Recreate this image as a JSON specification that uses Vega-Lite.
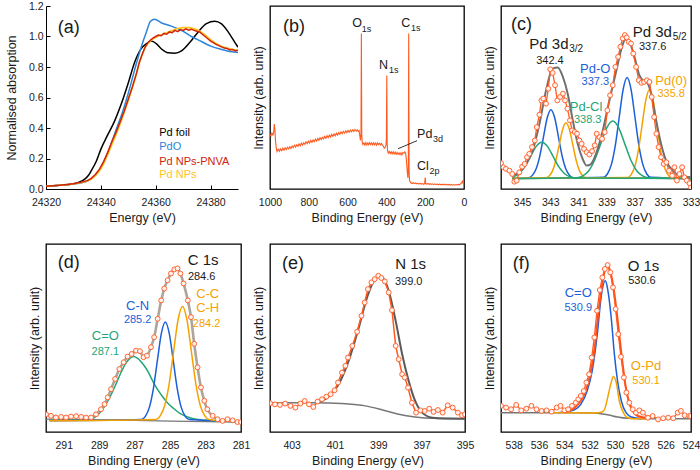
{
"$schema":"https://vega.github.io/schema/vega-lite/v6.json",
"background":"white",
"padding":{"left":5,"top":0,"right":0,"bottom":5},
"spacing":0,
"resolve":{"scale":{"x":"independent","y":"independent","color":"independent"}},
"config":{
 "font":"Liberation Sans",
 "view":{"stroke":"#000","strokeWidth":1.3},
 "axis":{"grid":false,"domain":false,"ticks":false,"labelFontSize":10.5,"titleFontSize":12.5,"titleFontWeight":"normal","labelColor":"#1a1a1a","titleColor":"#1a1a1a","labelPadding":8,"titlePadding":4,"labelFlush":false,"labelOverlap":false},
 "axisY":{"titlePadding":5},
 "text":{"font":"Liberation Sans"}
},
"hconcat":[
{"bounds":"flush","spacing":55,"resolve":{"scale":{"x":"independent","y":"independent","color":"independent"}},
 "vconcat":[
 {"width":192,"height":183,"view":{"stroke":null},
  "encoding":{
   "x":{"field":"x","type":"quantitative","scale":{"domain":[24320,24390],"nice":false,"zero":false},"axis":{"title":"Energy (eV)","values":[24320,24340,24360,24380],"format":"d","domain":true,"domainColor":"#000","ticks":true,"tickColor":"#000","tickSize":-4,"labelPadding":12,"titlePadding":4}},
   "y":{"field":"y","type":"quantitative","scale":{"domain":[0,1.2],"nice":false},"axis":{"title":"Normalised absorption","values":[0,0.2,0.4,0.6,0.8,1,1.2],"format":".1f","domain":true,"domainColor":"#000","ticks":true,"tickColor":"#000","tickSize":-4,"labelPadding":7,"titlePadding":10}}
  },
  "layer":[
   {"data":{"values":[{"x":24320,"y":0.018},{"x":24325,"y":0.025},{"x":24330,"y":0.035},{"x":24332,"y":0.045},{"x":24334,"y":0.063},{"x":24335.5,"y":0.09},{"x":24336.5,"y":0.12},{"x":24338.3,"y":0.18},{"x":24340.1,"y":0.265},{"x":24342.5,"y":0.355},{"x":24345,"y":0.445},{"x":24347.4,"y":0.555},{"x":24349.9,"y":0.69},{"x":24352.3,"y":0.83},{"x":24354.7,"y":0.92},{"x":24356.6,"y":0.953},{"x":24358.4,"y":0.97},{"x":24360.2,"y":0.953},{"x":24362,"y":0.92},{"x":24364.5,"y":0.893},{"x":24366.9,"y":0.89},{"x":24369.4,"y":0.905},{"x":24372.4,"y":0.96},{"x":24375.5,"y":1.03},{"x":24378.5,"y":1.085},{"x":24381.5,"y":1.1},{"x":24384,"y":1.083},{"x":24386.4,"y":1.03},{"x":24388.9,"y":0.96},{"x":24390,"y":0.93}]},
    "mark":{"type":"line","color":"#000","strokeWidth":1.5,"interpolate":"monotone","clip":true}},
   {"data":{"values":[{"x":24320,"y":0.018},{"x":24325,"y":0.025},{"x":24330,"y":0.032},{"x":24335.2,"y":0.052},{"x":24338.3,"y":0.096},{"x":24340.7,"y":0.16},{"x":24343.2,"y":0.27},{"x":24345.6,"y":0.39},{"x":24348,"y":0.51},{"x":24350.5,"y":0.66},{"x":24352.9,"y":0.82},{"x":24354.7,"y":0.93},{"x":24356.6,"y":1.03},{"x":24358.1,"y":1.1},{"x":24359.6,"y":1.113},{"x":24362,"y":1.09},{"x":24365.7,"y":1.068},{"x":24369.4,"y":1.04},{"x":24373,"y":1.0},{"x":24376.7,"y":0.967},{"x":24380.3,"y":0.935},{"x":24384,"y":0.915},{"x":24387.6,"y":0.9},{"x":24390,"y":0.895}]},
    "mark":{"type":"line","color":"#2b86d9","strokeWidth":1.5,"interpolate":"monotone","clip":true}},
   {"data":{"values":[{"x":24320,"y":0.018},{"x":24325,"y":0.025},{"x":24330,"y":0.033},{"x":24333,"y":0.043},{"x":24335,"y":0.052},{"x":24336.5,"y":0.065},{"x":24338,"y":0.088},{"x":24339.5,"y":0.12},{"x":24341,"y":0.165},{"x":24342.5,"y":0.225},{"x":24344,"y":0.29},{"x":24345.5,"y":0.355},{"x":24347,"y":0.425},{"x":24348.5,"y":0.5},{"x":24350,"y":0.58},{"x":24351.5,"y":0.665},{"x":24353,"y":0.755},{"x":24354,"y":0.825},{"x":24355,"y":0.875},{"x":24356,"y":0.92},{"x":24357,"y":0.95},{"x":24358,"y":0.97},{"x":24359,"y":0.985},{"x":24360,"y":0.995},{"x":24362,"y":1.01},{"x":24364,"y":1.025},{"x":24366,"y":1.04},{"x":24368,"y":1.052},{"x":24370,"y":1.058},{"x":24372,"y":1.058},{"x":24374,"y":1.05},{"x":24376,"y":1.035},{"x":24378,"y":1.01},{"x":24380,"y":0.98},{"x":24382,"y":0.955},{"x":24384,"y":0.935},{"x":24386,"y":0.925},{"x":24388,"y":0.915},{"x":24390,"y":0.91}]},
    "mark":{"type":"line","color":"#ffc21a","strokeWidth":1.6,"interpolate":"monotone","clip":true}},
   {"data":{"values":[{"x":24320,"y":0.018},{"x":24325,"y":0.025},{"x":24330,"y":0.034},{"x":24333,"y":0.045},{"x":24335,"y":0.055},{"x":24336.5,"y":0.07},{"x":24338,"y":0.095},{"x":24339.5,"y":0.13},{"x":24341,"y":0.18},{"x":24342.5,"y":0.24},{"x":24344,"y":0.31},{"x":24345.5,"y":0.37},{"x":24347,"y":0.44},{"x":24348.5,"y":0.51},{"x":24350,"y":0.59},{"x":24351.5,"y":0.67},{"x":24353,"y":0.76},{"x":24354,"y":0.83},{"x":24355,"y":0.88},{"x":24356,"y":0.925},{"x":24357,"y":0.955},{"x":24358,"y":0.975},{"x":24359,"y":0.99},{"x":24360,"y":1.0},{"x":24361,"y":1.01},{"x":24362,"y":1.005},{"x":24363,"y":1.02},{"x":24364,"y":1.015},{"x":24365,"y":1.03},{"x":24366,"y":1.025},{"x":24367,"y":1.04},{"x":24368,"y":1.032},{"x":24369,"y":1.045},{"x":24370,"y":1.04},{"x":24371,"y":1.05},{"x":24372,"y":1.042},{"x":24373,"y":1.048},{"x":24374,"y":1.04},{"x":24375,"y":1.035},{"x":24376,"y":1.03},{"x":24377,"y":1.015},{"x":24378,"y":1.0},{"x":24379,"y":0.985},{"x":24380,"y":0.97},{"x":24381,"y":0.96},{"x":24382,"y":0.948},{"x":24383,"y":0.94},{"x":24384,"y":0.932},{"x":24385,"y":0.925},{"x":24386,"y":0.922},{"x":24387,"y":0.912},{"x":24388,"y":0.915},{"x":24389,"y":0.905},{"x":24390,"y":0.91}]},
    "mark":{"type":"line","color":"#cf2408","strokeWidth":1.5,"clip":true}},
   {"data":{"values":[{"t":"(a)","x":24324.3,"y":1.058}]},"mark":{"type":"text","align":"left","baseline":"middle","fontSize":18,"color":"#1a1a1a"},"encoding":{"text":{"field":"t"}}},
   {"data":{"values":[{"t":"Pd foil","x":24361.3,"y":0.367},{"t":"PdO","x":24361.3,"y":0.277},{"t":"Pd NPs-PNVA","x":24361.3,"y":0.177},{"t":"Pd NPs","x":24361.3,"y":0.092}]},
    "mark":{"type":"text","align":"left","baseline":"middle","fontSize":11},
    "encoding":{"text":{"field":"t"},"color":{"field":"t","type":"nominal","scale":{"domain":["Pd foil","PdO","Pd NPs-PNVA","Pd NPs"],"range":["#000000","#2b86d9","#cf2408","#ffc21a"]},"legend":null}}}
  ]},
 {"width":195,"height":188,
  "encoding":{
   "x":{"field":"x","type":"quantitative","scale":{"domain":[281,292],"reverse":true,"nice":false,"zero":false},"axis":{"title":"Binding Energy (eV)","values":[291,289,287,285,283,281],"format":"d"}},
   "y":{"field":"y","type":"quantitative","scale":{"domain":[0,100],"nice":false},"axis":{"title":"Intensity (arb. unit)","labels":false}}
  },
  "layer":[
   {"data":{"values":[{"x":292,"y":6.8},{"x":289,"y":6.5},{"x":287,"y":6.2},{"x":285,"y":5.8},{"x":283,"y":5.5},{"x":281,"y":5.3}]},"mark":{"type":"line","color":"#777777","strokeWidth":1.3,"clip":true}},
   {"data":{"values":[
    {"c":"C=O","x":291.8,"y":6.3},{"c":"C=O","x":289.6,"y":6.2},{"c":"C=O","x":289.3,"y":7.5},{"c":"C=O","x":289,"y":9.8},{"c":"C=O","x":288.7,"y":13.5},{"c":"C=O","x":288.4,"y":18.5},{"c":"C=O","x":288.1,"y":24.5},{"c":"C=O","x":287.8,"y":31},{"c":"C=O","x":287.5,"y":36.5},{"c":"C=O","x":287.25,"y":39.3},{"c":"C=O","x":287.06,"y":40.1},{"c":"C=O","x":286.85,"y":39.3},{"c":"C=O","x":286.6,"y":37},{"c":"C=O","x":286.3,"y":33},{"c":"C=O","x":286,"y":27.5},{"c":"C=O","x":285.7,"y":22.5},{"c":"C=O","x":285.4,"y":18.5},{"c":"C=O","x":285.1,"y":15},{"c":"C=O","x":284.8,"y":12.5},{"c":"C=O","x":284.4,"y":9.6},{"c":"C=O","x":284,"y":8},{"c":"C=O","x":283.6,"y":6.9},{"c":"C=O","x":283,"y":6.2},{"c":"C=O","x":282,"y":5.7},{"c":"C=O","x":281.2,"y":5.5},
    {"c":"C-N","x":291.8,"y":6},{"c":"C-N","x":286.62,"y":6.6},{"c":"C-N","x":286.395,"y":8.3},{"c":"C-N","x":286.17,"y":13.1},{"c":"C-N","x":285.945,"y":23},{"c":"C-N","x":285.72,"y":37.8},{"c":"C-N","x":285.495,"y":52.3},{"c":"C-N","x":285.27,"y":58.5},{"c":"C-N","x":285.045,"y":52.3},{"c":"C-N","x":284.82,"y":37.8},{"c":"C-N","x":284.595,"y":23},{"c":"C-N","x":284.37,"y":13.1},{"c":"C-N","x":284.145,"y":8.3},{"c":"C-N","x":283.92,"y":6.6},{"c":"C-N","x":281.2,"y":5.6},
    {"c":"C-C","x":291.8,"y":6},{"c":"C-C","x":285.8,"y":6.7},{"c":"C-C","x":285.55,"y":8.7},{"c":"C-C","x":285.3,"y":14.2},{"c":"C-C","x":285.05,"y":25.7},{"c":"C-C","x":284.8,"y":42.9},{"c":"C-C","x":284.55,"y":59.7},{"c":"C-C","x":284.3,"y":66.8},{"c":"C-C","x":284.05,"y":59.7},{"c":"C-C","x":283.8,"y":42.9},{"c":"C-C","x":283.55,"y":25.7},{"c":"C-C","x":283.3,"y":14.2},{"c":"C-C","x":283.05,"y":8.7},{"c":"C-C","x":282.8,"y":6.7},{"c":"C-C","x":281.2,"y":5.6}]},
    "mark":{"type":"line","strokeWidth":1.5,"interpolate":"monotone","clip":true},
    "encoding":{"color":{"field":"c","type":"nominal","scale":{"domain":["total","C=O","C-N","C-C"],"range":["#1a1a1a","#1fa675","#1c5fd9","#f5a200"]},"legend":null}}},
   {"data":{"name":"dpts","values":[{"x":292,"y":9.4},{"x":291.72,"y":8.6},{"x":291.44,"y":7.7},{"x":291.15,"y":8},{"x":290.87,"y":7.7},{"x":290.59,"y":8.2},{"x":290.3,"y":8.4},{"x":290.02,"y":8},{"x":289.74,"y":7.7},{"x":289.46,"y":7.7},{"x":289.18,"y":9.4},{"x":288.9,"y":12.1},{"x":288.7,"y":14.8},{"x":288.52,"y":18.4},{"x":288.33,"y":22.8},{"x":288.1,"y":28.2},{"x":287.86,"y":33.5},{"x":287.62,"y":37.1},{"x":287.4,"y":40.1},{"x":287.17,"y":41.5},{"x":286.92,"y":43.3},{"x":286.7,"y":43},{"x":286.5,"y":39.8},{"x":286.3,"y":40.6},{"x":286.08,"y":45.1},{"x":285.9,"y":50.4},{"x":285.7,"y":60.2},{"x":285.5,"y":70},{"x":285.33,"y":76.3},{"x":285.14,"y":80.7},{"x":284.95,"y":84.3},{"x":284.76,"y":86.5},{"x":284.58,"y":87},{"x":284.42,"y":84.3},{"x":284.24,"y":79},{"x":284,"y":70},{"x":283.82,"y":61.1},{"x":283.64,"y":46.9},{"x":283.45,"y":34.4},{"x":283.26,"y":23.7},{"x":283.07,"y":16.6},{"x":282.9,"y":12.1},{"x":282.6,"y":8.6},{"x":282.32,"y":6.8},{"x":282.04,"y":5.9},{"x":281.76,"y":6.8},{"x":281.47,"y":6.2},{"x":281.2,"y":5.3},{"x":281,"y":5.3}]},
    "mark":{"type":"line","color":"#ada49b","strokeWidth":2.6,"interpolate":"monotone","clip":true}},
   {"data":{"name":"dpts"},"mark":{"type":"point","shape":"circle","filled":true,"fill":"#fff2ec","stroke":"#ff6633","strokeWidth":1,"size":24,"opacity":1,"clip":true}},
   {"data":{"values":[{"t":"(d)","x":291.34,"y":89.7}]},"mark":{"type":"text","align":"left","baseline":"middle","fontSize":18,"color":"#1a1a1a"},"encoding":{"text":{"field":"t"}}},
   {"data":{"values":[{"t":"C 1s","x":284.01,"y":91.4}]},"mark":{"type":"text","align":"left","baseline":"middle","fontSize":15,"color":"#1a1a1a"},"encoding":{"text":{"field":"t"}}},
   {"data":{"values":[{"t":"C-C","c":"C-C","x":282.88,"y":73.3},{"t":"C-H","c":"C-C","x":282.88,"y":66},{"t":"C-N","c":"C-N","x":286.83,"y":67},{"t":"C=O","c":"C=O","x":288.65,"y":51}]},"mark":{"type":"text","align":"center","baseline":"middle","fontSize":13},
    "encoding":{"text":{"field":"t"},"color":{"field":"c","type":"nominal","legend":null}}},
   {"data":{"values":[{"t":"284.6","c":"total","x":283.22,"y":82.5},{"t":"284.2","c":"C-C","x":282.94,"y":57.2},{"t":"285.2","c":"C-N","x":286.83,"y":59.4},{"t":"287.1","c":"C=O","x":288.65,"y":42.4}]},"mark":{"type":"text","align":"center","baseline":"middle","fontSize":11},
    "encoding":{"text":{"field":"t"},"color":{"field":"c","type":"nominal","legend":null}}}
  ]}
 ]},
{"spacing":7,"resolve":{"scale":{"x":"independent","y":"independent","color":"independent"}},
 "hconcat":[
 {"bounds":"flush","spacing":55,"resolve":{"scale":{"x":"independent","y":"independent","color":"independent"}},
  "vconcat":[
  {"width":194,"height":183,"title":{"text":" ","fontSize":1,"offset":4.25},
   "encoding":{
    "x":{"field":"x","type":"quantitative","scale":{"domain":[0,1000],"reverse":true,"nice":false,"zero":false},"axis":{"title":"Binding Energy (eV)","values":[1000,800,600,400,200,0],"format":"d"}},
    "y":{"field":"y","type":"quantitative","scale":{"domain":[0,100],"nice":false},"axis":{"title":"Intensity (arb. unit)","labels":false}}
   },
   "layer":[
    {"data":{"values":[{"x":1000,"y":30},{"x":995,"y":29},{"x":990,"y":30.5},{"x":985,"y":29.5},{"x":981,"y":31},{"x":978,"y":35.5},{"x":975,"y":33},{"x":972,"y":27},{"x":968,"y":22.5},{"x":964,"y":20.5},{"x":958,"y":21.8},{"x":952,"y":20.6},{"x":946,"y":21.9},{"x":940,"y":21},{"x":934,"y":22.3},{"x":928,"y":21.2},{"x":922,"y":22.6},{"x":916,"y":21.5},{"x":910,"y":22.8},{"x":904,"y":21.9},{"x":898,"y":23.2},{"x":892,"y":22.1},{"x":886,"y":23.5},{"x":880,"y":22.6},{"x":874,"y":24},{"x":868,"y":22.9},{"x":862,"y":24.2},{"x":856,"y":23.3},{"x":850,"y":24.6},{"x":844,"y":23.6},{"x":838,"y":25},{"x":832,"y":24},{"x":826,"y":25.3},{"x":820,"y":24.4},{"x":814,"y":25.8},{"x":808,"y":24.8},{"x":802,"y":26.1},{"x":796,"y":25.1},{"x":790,"y":26.5},{"x":784,"y":25.5},{"x":778,"y":26.8},{"x":772,"y":25.9},{"x":766,"y":27.2},{"x":760,"y":26.2},{"x":754,"y":27.6},{"x":748,"y":26.6},{"x":742,"y":28},{"x":736,"y":27},{"x":730,"y":28.3},{"x":724,"y":27.4},{"x":718,"y":28.7},{"x":712,"y":27.7},{"x":706,"y":29.1},{"x":700,"y":28.1},{"x":694,"y":29.4},{"x":688,"y":28.4},{"x":682,"y":29.8},{"x":676,"y":28.8},{"x":670,"y":30.1},{"x":664,"y":29.1},{"x":658,"y":30.5},{"x":652,"y":29.5},{"x":646,"y":30.8},{"x":640,"y":29.9},{"x":634,"y":31.2},{"x":628,"y":30.2},{"x":622,"y":31.5},{"x":616,"y":30.5},{"x":610,"y":31.8},{"x":604,"y":30.8},{"x":598,"y":32},{"x":592,"y":31},{"x":586,"y":32.2},{"x":580,"y":31.3},{"x":574,"y":32.4},{"x":568,"y":31.4},{"x":562,"y":32.5},{"x":556,"y":31.6},{"x":550,"y":32.3},{"x":545,"y":31.5},{"x":541,"y":32},{"x":537,"y":29},{"x":534,"y":26.5},{"x":531,"y":30},{"x":529,"y":85},{"x":527,"y":30},{"x":525,"y":25.5},{"x":521,"y":24.3},{"x":516,"y":25.2},{"x":511,"y":24},{"x":506,"y":25.3},{"x":501,"y":24.1},{"x":496,"y":25.2},{"x":491,"y":24.2},{"x":486,"y":25.4},{"x":481,"y":24.3},{"x":476,"y":25.2},{"x":471,"y":24.1},{"x":466,"y":25.3},{"x":461,"y":24.2},{"x":456,"y":25.1},{"x":451,"y":24},{"x":446,"y":25.2},{"x":441,"y":24.3},{"x":436,"y":25},{"x":431,"y":24.1},{"x":426,"y":24.9},{"x":421,"y":24},{"x":416,"y":23.5},{"x":411,"y":22.3},{"x":406,"y":22.8},{"x":402,"y":24},{"x":400,"y":28},{"x":398,"y":62},{"x":396,"y":25},{"x":394,"y":21},{"x":390,"y":19.6},{"x":385,"y":20.5},{"x":380,"y":19.4},{"x":375,"y":20.4},{"x":370,"y":19.2},{"x":365,"y":20.3},{"x":360,"y":19.1},{"x":355,"y":20.2},{"x":350,"y":19},{"x":345,"y":20},{"x":340,"y":18.9},{"x":335,"y":19.8},{"x":330,"y":18.8},{"x":325,"y":19.7},{"x":320,"y":18.6},{"x":315,"y":19.9},{"x":310,"y":19.5},{"x":305,"y":20.3},{"x":301,"y":19.5},{"x":298,"y":17},{"x":295,"y":13},{"x":292,"y":9},{"x":289,"y":6},{"x":287,"y":12},{"x":285,"y":85},{"x":283,"y":10},{"x":281,"y":5},{"x":278,"y":4},{"x":274,"y":3.4},{"x":268,"y":3},{"x":262,"y":3.4},{"x":256,"y":2.9},{"x":250,"y":3.3},{"x":244,"y":2.8},{"x":238,"y":3.2},{"x":232,"y":2.7},{"x":226,"y":3.1},{"x":220,"y":2.7},{"x":214,"y":3.0},{"x":208,"y":2.6},{"x":203,"y":2.9},{"x":200,"y":6.3},{"x":197,"y":2.8},{"x":192,"y":2.6},{"x":186,"y":3.0},{"x":180,"y":2.5},{"x":174,"y":2.9},{"x":168,"y":2.5},{"x":162,"y":2.8},{"x":156,"y":2.4},{"x":150,"y":2.8},{"x":144,"y":2.4},{"x":138,"y":2.7},{"x":132,"y":2.3},{"x":126,"y":2.7},{"x":120,"y":2.3},{"x":114,"y":2.6},{"x":108,"y":2.2},{"x":102,"y":2.6},{"x":96,"y":2.2},{"x":90,"y":2.5},{"x":84,"y":2.2},{"x":78,"y":2.5},{"x":72,"y":2.1},{"x":66,"y":2.5},{"x":60,"y":2.1},{"x":54,"y":2.4},{"x":48,"y":2.1},{"x":42,"y":2.4},{"x":36,"y":2.2},{"x":30,"y":2.5},{"x":24,"y":2.3},{"x":18,"y":2.8},{"x":12,"y":3.5},{"x":8,"y":4.3},{"x":5,"y":3.2},{"x":2,"y":2.4},{"x":0,"y":2.2}]},
     "mark":{"type":"line","color":"#ff5a1f","strokeWidth":1.1,"clip":true}},
    {"data":{"values":[{"x":242,"y":26.4,"x2":340,"y2":22}]},"mark":{"type":"rule","color":"#000","strokeWidth":0.8},"encoding":{"x2":{"field":"x2"},"y2":{"field":"y2"}}},
    {"data":{"values":[{"t":"(b)","x":933,"y":88.6}]},"mark":{"type":"text","align":"left","baseline":"middle","fontSize":18,"color":"#1a1a1a"},"encoding":{"text":{"field":"t"}}},
    {"data":{"values":[{"t":"O","x":576,"y":90.5},{"t":"N","x":438,"y":67.6},{"t":"C","x":323,"y":90.8},{"t":"Pd","x":242,"y":30.2},{"t":"Cl","x":242,"y":12.3}]},"mark":{"type":"text","align":"left","baseline":"middle","fontSize":12.5,"color":"#1a1a1a"},"encoding":{"text":{"field":"t"}}},
    {"data":{"values":[{"t":"1s","x":527,"y":87.6},{"t":"1s","x":387,"y":64.8},{"t":"1s","x":273,"y":87.9},{"t":"3d","x":160,"y":27.5},{"t":"2p","x":178,"y":9.6}]},"mark":{"type":"text","align":"left","baseline":"middle","fontSize":9,"color":"#1a1a1a"},"encoding":{"text":{"field":"t"}}}
   ]},
  {"width":195,"height":188,
   "encoding":{
    "x":{"field":"x","type":"quantitative","scale":{"domain":[395,404],"reverse":true,"nice":false,"zero":false},"axis":{"title":"Binding Energy (eV)","values":[403,401,399,397,395],"format":"d"}},
    "y":{"field":"y","type":"quantitative","scale":{"domain":[0,100],"nice":false},"axis":{"title":"Intensity (arb. unit)","labels":false}}
   },
   "layer":[
    {"data":{"values":[{"x":404,"y":15.5},{"x":401.9,"y":15.6},{"x":400.7,"y":15.1},{"x":399.6,"y":13.9},{"x":398.8,"y":11.7},{"x":398.06,"y":9.4},{"x":397.3,"y":8},{"x":396.5,"y":7.3},{"x":395,"y":7.1}]},"mark":{"type":"line","color":"#777777","strokeWidth":1.5,"interpolate":"monotone","clip":true}},
    {"data":{"values":[{"x":401.9,"y":15.6},{"x":401.3,"y":18.8},{"x":400.83,"y":25.4},{"x":400.37,"y":37.8},{"x":399.9,"y":55.6},{"x":399.52,"y":71.6},{"x":399.2,"y":80.5},{"x":398.98,"y":83.1},{"x":398.75,"y":81.3},{"x":398.52,"y":75.1},{"x":398.2,"y":59.1},{"x":397.9,"y":41.4},{"x":397.6,"y":27.2},{"x":397.3,"y":16.5},{"x":396.98,"y":10.3},{"x":396.5,"y":7.6},{"x":396,"y":7.2},{"x":395,"y":7.1}]},"mark":{"type":"line","color":"#5a5a5a","strokeWidth":2,"interpolate":"monotone","clip":true}},
    {"data":{"name":"epts","values":[{"x":404,"y":15.3},{"x":403.77,"y":14.7},{"x":403.54,"y":14.4},{"x":403.3,"y":15.1},{"x":403.06,"y":13.9},{"x":402.83,"y":13},{"x":402.6,"y":15.1},{"x":402.4,"y":16.5},{"x":402.2,"y":14.7},{"x":402,"y":13.3},{"x":401.8,"y":16.2},{"x":401.6,"y":17.4},{"x":401.4,"y":18.8},{"x":401.2,"y":20.1},{"x":401.02,"y":22.2},{"x":400.86,"y":26.3},{"x":400.68,"y":31.6},{"x":400.52,"y":35.2},{"x":400.4,"y":39.6},{"x":400.2,"y":45.8},{"x":399.98,"y":53.3},{"x":399.78,"y":61.8},{"x":399.63,"y":68.9},{"x":399.48,"y":76},{"x":399.32,"y":79.6},{"x":399.17,"y":81.3},{"x":399,"y":83.1},{"x":398.86,"y":81.9},{"x":398.7,"y":80.1},{"x":398.52,"y":74.2},{"x":398.37,"y":64.8},{"x":398.2,"y":45.8},{"x":398.06,"y":38.7},{"x":397.9,"y":30.7},{"x":397.78,"y":29},{"x":397.63,"y":23.6},{"x":397.45,"y":15.6},{"x":397.26,"y":10.3},{"x":397.06,"y":11.5},{"x":396.86,"y":11.2},{"x":396.65,"y":12.4},{"x":396.45,"y":10.7},{"x":396.25,"y":11.7},{"x":396.03,"y":10.3},{"x":395.8,"y":14.2},{"x":395.57,"y":13},{"x":395.33,"y":10.3},{"x":395.14,"y":8.9},{"x":395,"y":9.4}]},
     "mark":{"type":"line","color":"#ff5a1f","strokeWidth":1.5,"clip":true}},
    {"data":{"name":"epts"},"mark":{"type":"point","shape":"circle","filled":true,"fill":"#fff2ec","stroke":"#ff6633","strokeWidth":1,"size":24,"opacity":1,"clip":true}},
    {"data":{"values":[{"t":"(e)","x":403.45,"y":89.3}]},"mark":{"type":"text","align":"left","baseline":"middle","fontSize":18,"color":"#1a1a1a"},"encoding":{"text":{"field":"t"}}},
    {"data":{"values":[{"t":"N 1s","x":398.22,"y":89.3}]},"mark":{"type":"text","align":"left","baseline":"middle","fontSize":15,"color":"#1a1a1a"},"encoding":{"text":{"field":"t"}}},
    {"data":{"values":[{"t":"399.0","x":397.6,"y":79.6}]},"mark":{"type":"text","align":"center","baseline":"middle","fontSize":11,"color":"#1a1a1a"},"encoding":{"text":{"field":"t"}}}
   ]}
  ]},
 {"bounds":"flush","spacing":55,"resolve":{"scale":{"x":"independent","y":"independent","color":"independent"}},
  "vconcat":[
  {"width":190,"height":183,"title":{"text":" ","fontSize":1,"offset":4.25},
   "encoding":{
    "x":{"field":"x","type":"quantitative","scale":{"domain":[333,346.5],"reverse":true,"nice":false,"zero":false},"axis":{"title":"Binding Energy (eV)","values":[345,343,341,339,337,335,333],"format":"d"}},
    "y":{"field":"y","type":"quantitative","scale":{"domain":[0,100],"nice":false},"axis":{"title":"Intensity (arb. unit)","labels":false}}
   },
   "layer":[
    {"data":{"values":[
     {"c":"Pd-O","p":"a","x":345.7,"y":5.8},{"c":"Pd-O","p":"a","x":344.54,"y":6.2},{"c":"Pd-O","p":"a","x":344.275,"y":7.45},{"c":"Pd-O","p":"a","x":344.01,"y":10.9},{"c":"Pd-O","p":"a","x":343.745,"y":18},{"c":"Pd-O","p":"a","x":343.48,"y":28.5},{"c":"Pd-O","p":"a","x":343.215,"y":38.9},{"c":"Pd-O","p":"a","x":342.95,"y":43.3},{"c":"Pd-O","p":"a","x":342.685,"y":38.9},{"c":"Pd-O","p":"a","x":342.42,"y":28.5},{"c":"Pd-O","p":"a","x":342.155,"y":18},{"c":"Pd-O","p":"a","x":341.89,"y":10.9},{"c":"Pd-O","p":"a","x":341.625,"y":7.45},{"c":"Pd-O","p":"a","x":341.36,"y":6.2},{"c":"Pd-O","p":"a","x":333,"y":5.8},
     {"c":"Pd-O","p":"b","x":345.7,"y":5.8},{"c":"Pd-O","p":"b","x":339.22,"y":6.4},{"c":"Pd-O","p":"b","x":338.94,"y":8.2},{"c":"Pd-O","p":"b","x":338.66,"y":13.3},{"c":"Pd-O","p":"b","x":338.38,"y":23.7},{"c":"Pd-O","p":"b","x":338.1,"y":39.2},{"c":"Pd-O","p":"b","x":337.82,"y":54.4},{"c":"Pd-O","p":"b","x":337.54,"y":60.9},{"c":"Pd-O","p":"b","x":337.26,"y":54.4},{"c":"Pd-O","p":"b","x":336.98,"y":39.2},{"c":"Pd-O","p":"b","x":336.7,"y":23.7},{"c":"Pd-O","p":"b","x":336.42,"y":13.3},{"c":"Pd-O","p":"b","x":336.14,"y":8.2},{"c":"Pd-O","p":"b","x":335.86,"y":6.4},{"c":"Pd-O","p":"b","x":333,"y":5.8},
     {"c":"Pd(0)","p":"a","x":345.7,"y":5.8},{"c":"Pd(0)","p":"a","x":343.32,"y":6.1},{"c":"Pd(0)","p":"a","x":343.08,"y":7.1},{"c":"Pd(0)","p":"a","x":342.84,"y":9.9},{"c":"Pd(0)","p":"a","x":342.6,"y":15.7},{"c":"Pd(0)","p":"a","x":342.36,"y":24.2},{"c":"Pd(0)","p":"a","x":342.12,"y":32.6},{"c":"Pd(0)","p":"a","x":341.88,"y":36.2},{"c":"Pd(0)","p":"a","x":341.64,"y":32.6},{"c":"Pd(0)","p":"a","x":341.4,"y":24.2},{"c":"Pd(0)","p":"a","x":341.16,"y":15.7},{"c":"Pd(0)","p":"a","x":340.92,"y":9.9},{"c":"Pd(0)","p":"a","x":340.68,"y":7.1},{"c":"Pd(0)","p":"a","x":340.44,"y":6.1},{"c":"Pd(0)","p":"a","x":333,"y":5.8},
     {"c":"Pd(0)","p":"b","x":345.7,"y":5.8},{"c":"Pd(0)","p":"b","x":337.51,"y":6.3},{"c":"Pd(0)","p":"b","x":337.25,"y":7.9},{"c":"Pd(0)","p":"b","x":336.99,"y":12.4},{"c":"Pd(0)","p":"b","x":336.73,"y":21.5},{"c":"Pd(0)","p":"b","x":336.47,"y":35.2},{"c":"Pd(0)","p":"b","x":336.21,"y":48.6},{"c":"Pd(0)","p":"b","x":335.95,"y":54.3},{"c":"Pd(0)","p":"b","x":335.69,"y":48.6},{"c":"Pd(0)","p":"b","x":335.43,"y":35.2},{"c":"Pd(0)","p":"b","x":335.17,"y":21.5},{"c":"Pd(0)","p":"b","x":334.91,"y":12.4},{"c":"Pd(0)","p":"b","x":334.65,"y":7.9},{"c":"Pd(0)","p":"b","x":334.39,"y":6.3},{"c":"Pd(0)","p":"b","x":333,"y":5.8},
     {"c":"Pd-Cl","p":"a","x":345.7,"y":6.5},{"c":"Pd-Cl","p":"a","x":345.2,"y":8.5},{"c":"Pd-Cl","p":"a","x":344.8,"y":12.2},{"c":"Pd-Cl","p":"a","x":344.4,"y":17.8},{"c":"Pd-Cl","p":"a","x":344,"y":23.3},{"c":"Pd-Cl","p":"a","x":343.6,"y":25.6},{"c":"Pd-Cl","p":"a","x":343.2,"y":23.3},{"c":"Pd-Cl","p":"a","x":342.8,"y":17.8},{"c":"Pd-Cl","p":"a","x":342.4,"y":12.2},{"c":"Pd-Cl","p":"a","x":342,"y":8.5},{"c":"Pd-Cl","p":"a","x":341.6,"y":6.7},{"c":"Pd-Cl","p":"a","x":341.2,"y":6},{"c":"Pd-Cl","p":"a","x":333,"y":5.8},
     {"c":"Pd-Cl","p":"b","x":345.7,"y":5.8},{"c":"Pd-Cl","p":"b","x":341.11,"y":6.2},{"c":"Pd-Cl","p":"b","x":340.685,"y":7.2},{"c":"Pd-Cl","p":"b","x":340.26,"y":10},{"c":"Pd-Cl","p":"b","x":339.835,"y":16},{"c":"Pd-Cl","p":"b","x":339.41,"y":24.8},{"c":"Pd-Cl","p":"b","x":338.985,"y":33.4},{"c":"Pd-Cl","p":"b","x":338.56,"y":37.1},{"c":"Pd-Cl","p":"b","x":338.135,"y":33.4},{"c":"Pd-Cl","p":"b","x":337.71,"y":24.8},{"c":"Pd-Cl","p":"b","x":337.285,"y":16},{"c":"Pd-Cl","p":"b","x":336.86,"y":10},{"c":"Pd-Cl","p":"b","x":336.435,"y":7.2},{"c":"Pd-Cl","p":"b","x":336.01,"y":6.2},{"c":"Pd-Cl","p":"b","x":333,"y":5.8}]},
     "mark":{"type":"line","strokeWidth":1.5,"interpolate":"monotone","clip":true},
     "encoding":{"detail":{"field":"p"},"color":{"field":"c","type":"nominal","scale":{"domain":["total","Pd-O","Pd-Cl","Pd(0)"],"range":["#1a1a1a","#1c5fd9","#1fa675","#f5a200"]},"legend":null}}},
    {"data":{"values":[{"x":345.67,"y":7.3},{"x":345.2,"y":9.1},{"x":344.72,"y":13.7},{"x":344.25,"y":21},{"x":343.77,"y":35.6},{"x":343.3,"y":53.9},{"x":342.83,"y":65.8},{"x":342.47,"y":66.4},{"x":342.1,"y":61.2},{"x":341.76,"y":52.1},{"x":341.4,"y":37.5},{"x":341.05,"y":24.7},{"x":340.7,"y":16.5},{"x":340.41,"y":12.8},{"x":340.1,"y":13.7},{"x":339.75,"y":19.2},{"x":339.27,"y":32},{"x":338.8,"y":48.4},{"x":338.3,"y":64.9},{"x":337.97,"y":75.9},{"x":337.66,"y":81.7},{"x":337.38,"y":80.4},{"x":337.02,"y":72.2},{"x":336.67,"y":62.2},{"x":336.43,"y":59.4},{"x":336.07,"y":57.6},{"x":335.83,"y":52.1},{"x":335.48,"y":37.5},{"x":335.13,"y":24.7},{"x":334.77,"y":15.5},{"x":334.3,"y":10},{"x":333.82,"y":7.3},{"x":333,"y":6.4}]},
     "mark":{"type":"line","color":"#6f6f6f","strokeWidth":2,"interpolate":"monotone","clip":true}},
    {"data":{"name":"cpts","values":[{"x":346.5,"y":14.1},{"x":346.33,"y":11.9},{"x":346.15,"y":11},{"x":345.9,"y":10},{"x":345.7,"y":8.2},{"x":345.55,"y":4},{"x":345.39,"y":4.6},{"x":345.2,"y":9.1},{"x":345,"y":12.2},{"x":344.82,"y":13.7},{"x":344.65,"y":17.4},{"x":344.49,"y":19.2},{"x":344.3,"y":22.9},{"x":344.1,"y":26.5},{"x":343.96,"y":33.8},{"x":343.77,"y":40.6},{"x":343.63,"y":48.4},{"x":343.5,"y":49.4},{"x":343.3,"y":46.6},{"x":343.14,"y":54.8},{"x":343,"y":65.4},{"x":342.83,"y":63.4},{"x":342.66,"y":56.7},{"x":342.5,"y":48.4},{"x":342.3,"y":50.3},{"x":342.1,"y":52.1},{"x":341.95,"y":48.4},{"x":341.78,"y":43.9},{"x":341.6,"y":37.5},{"x":341.45,"y":32},{"x":341.26,"y":31.1},{"x":341.1,"y":30.2},{"x":340.93,"y":26.5},{"x":340.77,"y":24.7},{"x":340.6,"y":21.9},{"x":340.41,"y":20.1},{"x":340.22,"y":18.8},{"x":340.03,"y":20.7},{"x":339.84,"y":23.8},{"x":339.7,"y":30.2},{"x":339.5,"y":28.3},{"x":339.32,"y":27.4},{"x":339.13,"y":31.1},{"x":338.94,"y":43},{"x":338.75,"y":51.2},{"x":338.56,"y":56.7},{"x":338.37,"y":66.7},{"x":338.18,"y":72.2},{"x":338.02,"y":77.7},{"x":337.85,"y":82.3},{"x":337.7,"y":84.1},{"x":337.57,"y":82.8},{"x":337.43,"y":80.4},{"x":337.26,"y":79.5},{"x":337.1,"y":74},{"x":336.9,"y":66.7},{"x":336.71,"y":59.4},{"x":336.52,"y":58},{"x":336.33,"y":58.5},{"x":336.14,"y":59.4},{"x":335.95,"y":58.5},{"x":335.79,"y":50.3},{"x":335.62,"y":39.3},{"x":335.46,"y":30.2},{"x":335.3,"y":22.9},{"x":335.13,"y":17.4},{"x":334.94,"y":13.7},{"x":334.75,"y":14.6},{"x":334.56,"y":10},{"x":334.34,"y":7.3},{"x":334.18,"y":11.9},{"x":334,"y":4.6},{"x":333.82,"y":8.2},{"x":333.63,"y":11.9},{"x":333.47,"y":6.4},{"x":333.3,"y":4.6},{"x":333.1,"y":3.1},{"x":333,"y":0.8}]},
     "mark":{"type":"line","color":"#ff5a1f","strokeWidth":1.3,"clip":true}},
    {"data":{"name":"cpts"},"mark":{"type":"point","shape":"circle","filled":true,"fill":"#fff2ec","stroke":"#ff6633","strokeWidth":1,"size":24,"opacity":1,"clip":true}},
    {"data":{"values":[{"t":"(c)","x":345.79,"y":89.6}]},"mark":{"type":"text","align":"left","baseline":"middle","fontSize":18,"color":"#1a1a1a"},"encoding":{"text":{"field":"t"}}},
    {"data":{"values":[{"t":"Pd 3d","x":344.49,"y":79.5},{"t":"Pd 3d","x":337.14,"y":85.9}]},"mark":{"type":"text","align":"left","baseline":"middle","fontSize":15,"color":"#1a1a1a"},"encoding":{"text":{"field":"t"}}},
    {"data":{"values":[{"t":"3/2","x":341.65,"y":76.6},{"t":"5/2","x":334.3,"y":83}]},"mark":{"type":"text","align":"left","baseline":"middle","fontSize":10,"color":"#1a1a1a"},"encoding":{"text":{"field":"t"}}},
    {"data":{"values":[{"t":"Pd-O","c":"Pd-O","x":339.8,"y":65.4},{"t":"Pd-Cl","c":"Pd-Cl","x":340.46,"y":44.8},{"t":"Pd(0)","c":"Pd(0)","x":334.41,"y":58.9}]},"mark":{"type":"text","align":"center","baseline":"middle","fontSize":13},
     "encoding":{"text":{"field":"t"},"color":{"field":"c","type":"nominal","legend":null}}},
    {"data":{"values":[{"t":"342.4","c":"total","x":343.02,"y":70},{"t":"337.6","c":"total","x":335.72,"y":77.7},{"t":"337.3","c":"Pd-O","x":339.8,"y":58.5},{"t":"338.3","c":"Pd-Cl","x":340.34,"y":37.8},{"t":"335.8","c":"Pd(0)","x":334.41,"y":51.7}]},"mark":{"type":"text","align":"center","baseline":"middle","fontSize":11},
     "encoding":{"text":{"field":"t"},"color":{"field":"c","type":"nominal","legend":null}}}
   ]},
  {"width":190,"height":188,
   "encoding":{
    "x":{"field":"x","type":"quantitative","scale":{"domain":[524,539],"reverse":true,"nice":false,"zero":false},"axis":{"title":"Binding Energy (eV)","values":[538,536,534,532,530,528,526,524],"format":"d"}},
    "y":{"field":"y","type":"quantitative","scale":{"domain":[0,100],"nice":false},"axis":{"title":"Intensity (arb. unit)","labels":false}}
   },
   "layer":[
    {"data":{"values":[{"x":539,"y":10.3},{"x":533,"y":10.3},{"x":531.4,"y":10},{"x":530.5,"y":9},{"x":529.8,"y":8},{"x":529,"y":7.3},{"x":528,"y":7.1},{"x":524,"y":7.1}]},"mark":{"type":"line","color":"#777777","strokeWidth":1.5,"interpolate":"monotone","clip":true}},
    {"data":{"values":[
     {"c":"C=O","x":534.5,"y":10.3},{"c":"C=O","x":533.2,"y":11.8},{"c":"C=O","x":532.7,"y":14.7},{"c":"C=O","x":532.2,"y":21.8},{"c":"C=O","x":531.8,"y":32.5},{"c":"C=O","x":531.37,"y":53.8},{"c":"C=O","x":531.1,"y":71.6},{"c":"C=O","x":530.76,"y":80.5},{"c":"C=O","x":530.58,"y":76},{"c":"C=O","x":530.3,"y":60.9},{"c":"C=O","x":530.05,"y":41.4},{"c":"C=O","x":529.8,"y":27.2},{"c":"C=O","x":529.5,"y":16.5},{"c":"C=O","x":529.13,"y":10.3},{"c":"C=O","x":528.7,"y":8},{"c":"C=O","x":527.9,"y":7.1},
     {"c":"O-Pd","x":535,"y":10.3},{"c":"O-Pd","x":531.6,"y":10.1},{"c":"O-Pd","x":530.97,"y":10.8},{"c":"O-Pd","x":530.75,"y":13.5},{"c":"O-Pd","x":530.58,"y":18.3},{"c":"O-Pd","x":530.3,"y":26.3},{"c":"O-Pd","x":530.13,"y":29.5},{"c":"O-Pd","x":529.9,"y":26.3},{"c":"O-Pd","x":529.66,"y":16.5},{"c":"O-Pd","x":529.3,"y":9.8},{"c":"O-Pd","x":529,"y":7.6},{"c":"O-Pd","x":528.5,"y":7.1},{"c":"O-Pd","x":527.5,"y":7.1}]},
     "mark":{"type":"line","strokeWidth":1.5,"interpolate":"monotone","clip":true},
     "encoding":{"color":{"field":"c","type":"nominal","scale":{"domain":["total","C=O","O-Pd"],"range":["#1a1a1a","#1c5fd9","#f5a200"]},"legend":null}}},
    {"data":{"values":[{"x":534,"y":10.5},{"x":533.5,"y":11.5},{"x":533,"y":14},{"x":532.5,"y":19},{"x":532,"y":29},{"x":531.6,"y":45},{"x":531.3,"y":64},{"x":531,"y":79},{"x":530.75,"y":87},{"x":530.6,"y":88.5},{"x":530.4,"y":86},{"x":530.1,"y":76},{"x":529.8,"y":60},{"x":529.5,"y":42},{"x":529.2,"y":26},{"x":528.9,"y":16},{"x":528.6,"y":11},{"x":528.2,"y":8.5},{"x":527.5,"y":7.5}]},
     "mark":{"type":"line","color":"#ff4f1a","strokeWidth":2,"interpolate":"monotone","clip":true}},
    {"data":{"name":"fpts","values":[{"x":539,"y":13.9},{"x":538.6,"y":13},{"x":538.2,"y":12.1},{"x":537.8,"y":14.4},{"x":537.4,"y":11.5},{"x":537,"y":12.4},{"x":536.6,"y":13.9},{"x":536.2,"y":12.1},{"x":535.8,"y":11.2},{"x":535.4,"y":11.5},{"x":535,"y":10.8},{"x":534.6,"y":13},{"x":534.3,"y":13.9},{"x":534,"y":11.5},{"x":533.7,"y":12.1},{"x":533.4,"y":13.9},{"x":533.1,"y":15.6},{"x":532.9,"y":17.4},{"x":532.7,"y":19.2},{"x":532.47,"y":21.8},{"x":532.26,"y":26.3},{"x":532.05,"y":30.7},{"x":531.84,"y":39.6},{"x":531.63,"y":50.3},{"x":531.42,"y":64.5},{"x":531.2,"y":75.5},{"x":531,"y":82.2},{"x":530.8,"y":86.7},{"x":530.58,"y":88.8},{"x":530.37,"y":84.9},{"x":530.16,"y":76.9},{"x":529.95,"y":65.4},{"x":529.74,"y":52},{"x":529.53,"y":40},{"x":529.3,"y":29},{"x":529.1,"y":21},{"x":528.87,"y":15.6},{"x":528.6,"y":12.1},{"x":528.34,"y":10.3},{"x":528.08,"y":11.5},{"x":527.8,"y":10.3},{"x":527.4,"y":7.6},{"x":527.03,"y":8.5},{"x":526.6,"y":6.7},{"x":526.2,"y":7.3},{"x":525.8,"y":7.6},{"x":525.4,"y":7.3},{"x":525.05,"y":10.3},{"x":524.8,"y":11.2},{"x":524.5,"y":8.9},{"x":524.13,"y":8.5},{"x":524,"y":8.5}]},
     "mark":{"type":"line","color":"#ff5a1f","strokeWidth":1.3,"clip":true}},
    {"data":{"name":"fpts"},"mark":{"type":"point","shape":"circle","filled":true,"fill":"#fff2ec","stroke":"#ff6633","strokeWidth":1,"size":24,"opacity":1,"clip":true}},
    {"data":{"values":[{"t":"(f)","x":538.08,"y":89.3}]},"mark":{"type":"text","align":"left","baseline":"middle","fontSize":18,"color":"#1a1a1a"},"encoding":{"text":{"field":"t"}}},
    {"data":{"values":[{"t":"O 1s","x":529,"y":88.5}]},"mark":{"type":"text","align":"left","baseline":"middle","fontSize":15,"color":"#1a1a1a"},"encoding":{"text":{"field":"t"}}},
    {"data":{"values":[{"t":"C=O","c":"C=O","x":532.9,"y":74.2},{"t":"O-Pd","c":"O-Pd","x":527.55,"y":35.2}]},"mark":{"type":"text","align":"center","baseline":"middle","fontSize":13},
     "encoding":{"text":{"field":"t"},"color":{"field":"c","type":"nominal","legend":null}}},
    {"data":{"values":[{"t":"530.6","c":"total","x":527.87,"y":80.5},{"t":"530.9","c":"C=O","x":532.9,"y":65.9},{"t":"530.1","c":"O-Pd","x":527.55,"y":27.2}]},"mark":{"type":"text","align":"center","baseline":"middle","fontSize":11},
     "encoding":{"text":{"field":"t"},"color":{"field":"c","type":"nominal","legend":null}}}
   ]}
  ]}
 ]}
]
}
